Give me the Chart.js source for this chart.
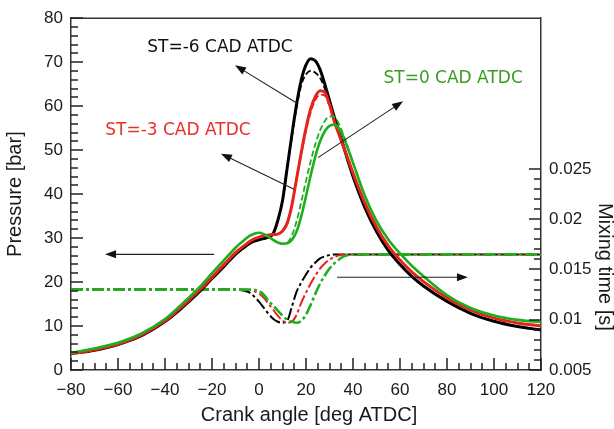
<!DOCTYPE html>
<html>
<head>
<meta charset="utf-8">
<script src="https://cdn.jsdelivr.net/npm/chart.js@4.4.1/dist/chart.umd.min.js"></script>
<style>
html, body { margin: 0; padding: 0; background: #fff; }
#wrap { width: 614px; height: 429px; }
</style>
</head>
<body>
<div id="wrap"><canvas id="c"></canvas></div>
<script>
// crank angle grid [deg ATDC]
const crankAngle = [-80, -70, -60, -50, -40, -35, -30, -25, -20, -15,
  -10, -8, -6, -4, -2, 0, 2, 4, 6, 8, 10, 12, 14, 16, 18, 20, 22, 24, 26, 28, 30, 32, 34, 36, 38, 40,
  45, 50, 55, 60, 65, 70, 80, 90, 100, 110, 120];

// cylinder pressure [bar], solid = measured, dashed = model
const pressureM6 = [3.7, 4.5, 5.8, 7.8, 11.0, 13.1, 15.5, 18.0, 20.8, 23.5,
  26.3, 27.2, 28.0, 28.8, 29.3, 29.6, 29.9, 30.2, 31.0, 34.0, 38.5, 46.0, 53.5, 60.5, 66.0, 69.4, 70.8, 70.3, 68.3, 65.0, 61.3, 57.6, 54.3, 50.8, 47.3, 44.0,
  37.0, 31.5, 27.2, 24.0, 21.3, 19.1, 15.6, 12.9, 11.1, 9.9, 9.1];
const pressureM6Model = [3.7, 4.5, 5.8, 7.8, 11.0, 13.1, 15.5, 18.0, 20.8, 23.5,
  26.3, 27.2, 28.0, 28.8, 29.3, 29.6, 29.9, 30.2, 31.0, 34.0, 38.5, 46.0, 53.0, 59.6, 64.8, 67.2, 68.0, 67.6, 66.4, 64.0, 60.8, 57.4, 54.3, 50.8, 47.3, 44.0,
  37.0, 31.5, 27.2, 24.0, 21.3, 19.1, 15.6, 12.9, 11.1, 9.9, 9.1];
const pressureM3 = [3.7, 4.6, 5.9, 8.0, 11.2, 13.4, 15.8, 18.3, 21.1, 23.9,
  26.7, 27.6, 28.4, 29.2, 29.8, 30.2, 30.5, 30.7, 30.8, 30.9, 31.6, 33.4, 37.5, 43.5, 49.5, 55.0, 59.4, 62.2, 63.5, 63.1, 60.4, 56.6, 53.6, 50.7, 47.8, 44.8,
  38.0, 32.5, 28.2, 25.0, 22.3, 20.1, 16.4, 13.6, 11.8, 10.7, 10.0];
const pressureM3Model = [3.7, 4.6, 5.9, 8.0, 11.2, 13.4, 15.8, 18.3, 21.1, 23.9,
  26.7, 27.6, 28.4, 29.2, 29.8, 30.2, 30.5, 30.7, 30.8, 30.9, 31.6, 33.4, 37.5, 43.5, 49.0, 54.4, 58.6, 61.4, 62.6, 62.4, 60.0, 56.6, 53.6, 50.7, 47.8, 44.8,
  38.0, 32.5, 28.2, 25.0, 22.3, 20.1, 16.4, 13.6, 11.8, 10.7, 10.0];
const pressure0 = [3.9, 4.9, 6.2, 8.3, 11.6, 13.9, 16.4, 19.0, 22.0, 24.9,
  27.8, 28.8, 29.7, 30.5, 31.0, 31.2, 30.9, 30.3, 29.6, 29.0, 28.7, 28.8, 29.6, 31.5, 35.0, 39.5, 44.3, 48.6, 52.0, 54.3, 55.5, 55.8, 55.0, 52.9, 50.1, 47.1,
  39.7, 33.9, 29.7, 26.5, 23.7, 21.3, 17.0, 14.1, 12.4, 11.4, 10.9];
const pressure0Model = [3.9, 4.9, 6.2, 8.3, 11.6, 13.9, 16.4, 19.0, 22.0, 24.9,
  27.8, 28.8, 29.7, 30.5, 31.0, 31.2, 30.9, 30.3, 29.6, 29.0, 28.7, 28.9, 30.6, 33.8, 38.3, 43.0, 47.5, 51.4, 54.5, 56.6, 57.7, 57.6, 56.0, 53.4, 50.4, 47.2,
  39.7, 33.9, 29.7, 26.5, 23.7, 21.3, 17.0, 14.1, 12.4, 11.4, 10.9];

// mixing time [s]
const mixingM6 = [0.0130, 0.0130, 0.0130, 0.0130, 0.0130, 0.0130, 0.0130, 0.0130, 0.0130, 0.0130,
  0.0130, 0.01297, 0.01288, 0.0127, 0.0123, 0.0118, 0.0112, 0.0106, 0.0101, 0.0098, 0.0097, 0.0099, 0.0113, 0.0128, 0.0137, 0.0145, 0.0152, 0.0157, 0.0161, 0.0163, 0.01643, 0.0165, 0.0165, 0.0165, 0.0165, 0.0165,
  0.0165, 0.0165, 0.0165, 0.0165, 0.0165, 0.0165, 0.0165, 0.0165, 0.0165, 0.0165, 0.0165];
const mixingM3 = [0.0130, 0.0130, 0.0130, 0.0130, 0.0130, 0.0130, 0.0130, 0.0130, 0.0130, 0.0130,
  0.0130, 0.0130, 0.0130, 0.01295, 0.01282, 0.0126, 0.0122, 0.0116, 0.0110, 0.0104, 0.0099, 0.0097, 0.0098, 0.0105, 0.0117, 0.0127, 0.0136, 0.0144, 0.0151, 0.0156, 0.0160, 0.0162, 0.0164, 0.0165, 0.0165, 0.0165,
  0.0165, 0.0165, 0.0165, 0.0165, 0.0165, 0.0165, 0.0165, 0.0165, 0.0165, 0.0165, 0.0165];
const mixing0 = [0.0130, 0.0130, 0.0130, 0.0130, 0.0130, 0.0130, 0.0130, 0.0130, 0.0130, 0.0130,
  0.0130, 0.0130, 0.0130, 0.0130, 0.01297, 0.01285, 0.0125, 0.0119, 0.0114, 0.0109, 0.0104, 0.0100, 0.0098, 0.0097, 0.0099, 0.0105, 0.0115, 0.0126, 0.0136, 0.0144, 0.0151, 0.0156, 0.0160, 0.0163, 0.01645, 0.0165,
  0.0165, 0.0165, 0.0165, 0.0165, 0.0165, 0.0165, 0.0165, 0.0165, 0.0165, 0.0165, 0.0165];

const BLACK = '#000000';
const RED = '#e5241d';
const GREEN = '#1fae1f';

// callouts, positions in axis units (crank angle, pressure)
const notes = [
  { text: 'ST=-6 CAD ATDC', color: '#111111', x: -16.6, p: 73.3 },
  { text: 'ST=-3 CAD ATDC', color: '#e8302a', x: -34.5, p: 54.4 },
  { text: 'ST=0 CAD ATDC', color: '#3b9c22', x: 82.6, p: 66.3 }
];
const arrows = [
  [16.0, 60.7, -10.2, 69.3],
  [14.9, 41.1, -16.2, 49.2],
  [25.1, 48.3, 61.3, 61.1],
  [-19.1, 26.3, -65.5, 26.3],
  [33.2, 21.1, 88.9, 21.1]
];

function series(vals, color, dash, width, axis, order) {
  return {
    data: crankAngle.map((a, i) => ({ x: a, y: vals[i] })),
    borderColor: color,
    borderWidth: width,
    borderDash: dash,
    pointRadius: 0,
    fill: false,
    cubicInterpolationMode: 'monotone',
    yAxisID: axis,
    order: order
  };
}

function arrow(ctx, x1, y1, x2, y2) {
  const a = Math.atan2(y2 - y1, x2 - x1);
  const c = Math.cos(a), s = Math.sin(a);
  ctx.beginPath();
  ctx.moveTo(x1, y1);
  ctx.lineTo(x2 - 6 * c, y2 - 6 * s);
  ctx.stroke();
  ctx.beginPath();
  ctx.moveTo(x2, y2);
  ctx.lineTo(x2 - 11 * c + 4 * s, y2 - 11 * s - 4 * c);
  ctx.lineTo(x2 - 11 * c - 4 * s, y2 - 11 * s + 4 * c);
  ctx.closePath();
  ctx.fill();
}

// inward ticks, top edge, callouts and axis titles
const decor = {
  id: 'decor',
  afterDraw(chart) {
    const ctx = chart.ctx;
    const a = chart.chartArea;
    const { x, y, y2 } = chart.scales;
    ctx.save();
    ctx.setLineDash([]);
    ctx.strokeStyle = '#333';
    ctx.lineWidth = 1.5;
    ctx.beginPath();
    ctx.moveTo(a.left, a.top);
    ctx.lineTo(a.right, a.top);
    ctx.stroke();

    ctx.strokeStyle = '#222';
    ctx.lineWidth = 1.5;
    ctx.beginPath();
    for (let v = -80; v <= 120; v += 5) {
      const px = Math.round(x.getPixelForValue(v));
      const len = v % 20 === 0 ? 12 : 7;
      ctx.moveTo(px, a.bottom);
      ctx.lineTo(px, a.bottom - len);
    }
    for (let v = 0; v <= 80; v += 2) {
      const py = Math.round(y.getPixelForValue(v));
      const len = v % 10 === 0 ? 12 : 7;
      ctx.moveTo(a.left, py);
      ctx.lineTo(a.left + len, py);
    }
    for (let k = 5; k <= 25; k++) {
      const py = Math.round(y2.getPixelForValue(k / 1000));
      const len = k % 5 === 0 ? 12 : 7;
      ctx.moveTo(a.right, py);
      ctx.lineTo(a.right - len, py);
    }
    ctx.stroke();

    ctx.strokeStyle = '#222';
    ctx.fillStyle = '#111';
    ctx.lineWidth = 1.1;
    arrows.forEach(r => {
      arrow(ctx, x.getPixelForValue(r[0]), y.getPixelForValue(r[1]),
        x.getPixelForValue(r[2]), y.getPixelForValue(r[3]));
    });

    ctx.font = '17px "DejaVu Sans"';
    ctx.textAlign = 'center';
    ctx.textBaseline = 'middle';
    notes.forEach(n => {
      ctx.fillStyle = n.color;
      ctx.fillText(n.text, x.getPixelForValue(n.x), y.getPixelForValue(n.p));
    });

    ctx.fillStyle = '#1a1a1a';
    ctx.font = '20px "Liberation Sans"';
    ctx.textBaseline = 'alphabetic';
    ctx.fillText('Crank angle [deg ATDC]', (a.left + a.right) / 2 + 3, 421);

    ctx.textBaseline = 'middle';
    ctx.save();
    ctx.translate(15, (a.top + a.bottom) / 2);
    ctx.rotate(-Math.PI / 2);
    ctx.fillText('Pressure [bar]', 0, 0);
    ctx.restore();

    ctx.save();
    ctx.translate(605, 267);
    ctx.rotate(Math.PI / 2);
    ctx.fillText('Mixing time [s]', 0, 0);
    ctx.restore();
    ctx.restore();
  }
};

const tickFont = { family: '"Liberation Sans", Arial, sans-serif', size: 17 };
const axisBorder = { display: true, color: '#333', width: 1.5 };

new Chart(document.getElementById('c'), {
  type: 'line',
  data: {
    datasets: [
      series(pressureM6, BLACK, [], 3, 'y', 6),
      series(pressureM6Model, BLACK, [6, 3], 1.8, 'y', 5),
      series(pressureM3, RED, [], 3, 'y', 4),
      series(pressureM3Model, RED, [6, 3], 1.8, 'y', 3),
      series(pressure0, GREEN, [], 2.6, 'y', 2),
      series(pressure0Model, GREEN, [6, 3], 1.8, 'y', 1),
      series(mixingM6, BLACK, [12, 3, 3, 3], 2, 'y2', 9),
      series(mixingM3, RED, [12, 3, 3, 3], 2, 'y2', 8),
      series(mixing0, GREEN, [12, 3, 3, 3], 2.6, 'y2', 7)
    ]
  },
  options: {
    responsive: true,
    maintainAspectRatio: false,
    animation: false,
    layout: { padding: { top: 14, left: 0, right: 0, bottom: 0 } },
    plugins: { legend: { display: false }, tooltip: { enabled: false } },
    scales: {
      x: {
        type: 'linear',
        min: -80,
        max: 120,
        grid: { display: false, drawTicks: false },
        border: axisBorder,
        ticks: {
          stepSize: 20,
          padding: 10,
          color: '#1a1a1a',
          font: tickFont,
          maxRotation: 0,
          callback: v => String(v).replace('-', '\u2212')
        },
        afterFit: s => { s.height = 59; }
      },
      y: {
        position: 'left',
        min: 0,
        max: 80,
        grid: { display: false, drawTicks: false },
        border: axisBorder,
        ticks: { stepSize: 10, padding: 8, color: '#1a1a1a', font: tickFont },
        afterFit: s => { s.width = 71; }
      },
      y2: {
        position: 'right',
        min: 0.005,
        max: 0.04,
        grid: { display: false, drawTicks: false },
        border: axisBorder,
        ticks: {
          stepSize: 0.005,
          padding: 8,
          color: '#1a1a1a',
          font: tickFont,
          callback: v => (v <= 0.0251 ? String(Number(v.toFixed(3))) : '')
        },
        afterFit: s => { s.width = 73; }
      }
    }
  },
  plugins: [decor]
});
</script>
</body>
</html>
